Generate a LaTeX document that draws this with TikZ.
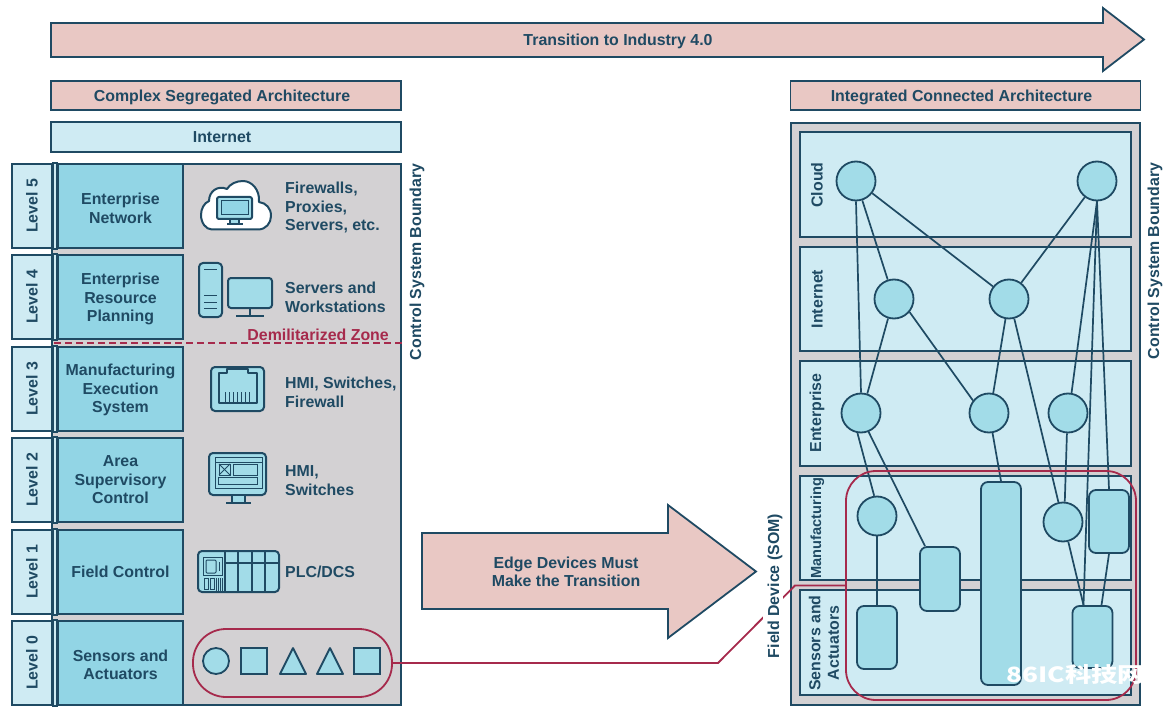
\documentclass[tikz,border=0pt]{standalone}
\usepackage{fontspec}
\setmainfont{Liberation Sans}
\newfontfamily\cjkfont{Noto Sans CJK SC}
\definecolor{encre}{HTML}{1F4A63}
\definecolor{rose}{HTML}{E9C8C4}
\definecolor{pale}{HTML}{CFEBF3}
\definecolor{moyen}{HTML}{92D5E5}
\definecolor{clair}{HTML}{A2DCE8}
\definecolor{gris}{HTML}{D3D1D3}
\definecolor{cramoisi}{HTML}{A62A4C}
\begin{document}
\begin{tikzpicture}[x=1pt,y=-1pt]
	\tikzstyle{every node}=[font=\bfseries\fontsize{15.9}{18.5}\selectfont,text=encre,align=center,inner sep=0pt,execute at begin node={\rule{0pt}{15.5pt}}]
	\tikzstyle{haut}=[execute at begin node={\rule[-4pt]{0pt}{4pt}}]
	\tikzstyle{trait}=[draw=encre,line width=1.8pt]
	\tikzstyle{entete}=[trait,fill=rose,minimum width=350pt,minimum height=29pt]
	\tikzstyle{panneau}=[trait,fill=gris,minimum width=349pt]
	\tikzstyle{niveau}=[trait,fill=pale,minimum width=40pt,minimum height=84pt]
	\tikzstyle{raccord}=[trait,fill=pale]
	\tikzstyle{fonction}=[trait,fill=moyen,minimum width=125pt,minimum height=84pt]
	\tikzstyle{couche}=[trait,fill=pale,minimum width=331pt]
	\tikzstyle{rond}=[trait,fill=clair,circle,minimum size=39pt]
	\tikzstyle{bloc}=[trait,fill=clair,rounded corners=7pt,minimum width=40pt]
	\tikzstyle{liaison}=[draw=encre,line width=1.7pt]
	\tikzstyle{texte}=[anchor=west,align=left]
	\tikzstyle{vertical}=[rotate=90]
	\tikzstyle{fleche}=[trait,fill=rose]
	\tikzstyle{icone}=[draw=encre,line width=2pt,fill=clair,line join=round]
	\tikzstyle{fin}=[draw=encre,line width=1pt]
	\tikzstyle{capsule}=[draw=cramoisi,line width=1.8pt]
	\def\Decale{\hspace{8pt}}
	\def\Cale#1{\rule{0pt}{#1pt}}

	\useasboundingbox (0,0) rectangle (1173,714);

	\draw[fleche] (51,23) -- (1103,23) -- (1103,8) -- (1144,39.5) -- (1103,71) -- (1103,57) -- (51,57) -- cycle;
	\node (Transition) at (618,39) {Transition to Industry 4.0};

	\node[entete] (Complexe) at (226,95.5) {Complex Segregated Architecture\Decale};
	\node[entete,haut,fill=pale,minimum height=30pt] (Internet) at (226,137) {Internet\Decale};
	\node[panneau,minimum height=541pt] (PanneauG) at (226.5,434.5) {};

	\node[niveau] (N5) at (32,206) {\rotatebox{90}{Level 5}};
	\node[niveau] (N4) at (32,297) {\rotatebox{90}{Level 4}};
	\node[niveau] (N3) at (32,389) {\rotatebox{90}{Level 3}};
	\node[niveau] (N2) at (32,480) {\rotatebox{90}{Level 2}};
	\node[niveau] (N1) at (32,572) {\rotatebox{90}{Level 1}};
	\node[niveau] (N0) at (32,663) {\rotatebox{90}{Level 0}};

	\node[fonction] (F5) at (120.5,206) {\Cale{16}Enterprise\\Network};
	\node[fonction] (F4) at (120.5,297) {\Cale{15.5}Enterprise\\Resource\\Planning};
	\node[fonction] (F3) at (120.5,389) {\Cale{14}Manufacturing\\Execution\\System};
	\node[fonction] (F2) at (120.5,480) {Area\\Supervisory\\Control};
	\node[fonction,haut] (F1) at (120.5,572) {Field Control};
	\node[fonction] (F0) at (120.5,663) {\Cale{15.5}Sensors and\\Actuators};

	\draw[raccord] (N5.north east) rectangle (F5.south west);
	\draw[raccord] (N4.north east) rectangle (F4.south west);
	\draw[raccord] (N3.north east) rectangle (F3.south west);
	\draw[raccord] (N2.north east) rectangle (F2.south west);
	\draw[raccord] (N1.north east) rectangle (F1.south west);
	\draw[raccord] (N0.north east) rectangle (F0.south west);

	\node[texte] (T5) at (285,206) {\Cale{14.5}Firewalls,\\Proxies,\\Servers, etc.};
	\node[texte] (T4) at (285,297.5) {Servers and\\Workstations};
	\node[texte] (T3) at (285,392.5) {HMI, Switches,\\Firewall};
	\node[texte] (T2) at (285,480.5) {HMI,\\Switches};
	\node[texte,haut] (T1) at (285,572) {PLC/DCS};

	\draw[icone,fill=white] (212,229.5) -- (258,229.5) .. controls (266,229.5) and (271,223) .. (271,216) .. controls (271,208) and (266,203) .. (259,202) .. controls (260,190) and (252,181) .. (243,181) .. controls (236,181) and (230,184) .. (227,189) .. controls (218,185) and (209,191) .. (209,201) .. controls (204,203) and (201,209) .. (201,215) .. controls (201,223) and (206,229.5) .. (212,229.5) -- cycle;
	\draw[icone,rounded corners=2pt] (217,197) rectangle (252,219);
	\draw[fin,fill=moyen] (221,201) rectangle (248,215);
	\draw[icone,line width=1.4pt] (230,219) rectangle (239,224);
	\draw[icone] (227,224) -- (243,224);

	\draw[icone,rounded corners=4pt] (199,263) rectangle (222,317);
	\draw[fin] (204,270) -- (217,270);
	\draw[fin] (204,295) -- (217,295);
	\draw[fin] (204,302) -- (217,302);
	\draw[fin] (204,308) -- (217,308);
	\draw[icone,rounded corners=3pt] (228,278) rectangle (272,308);
	\draw[icone] (250,308) -- (250,316);
	\draw[icone] (236,316) -- (264,316);

	\draw[icone,rounded corners=4pt] (211,367) rectangle (264,411);
	\draw[icone,fill=none] (219,373) -- (227,373) -- (227,369) -- (248,369) -- (248,373) -- (257,373) -- (257,403) -- (219,403) -- cycle;
	\foreach \x in {225,229,233,237,241,245,249}
		\draw[fin] (\x,392) -- (\x,403);

	\draw[icone,rounded corners=4pt] (209,453) rectangle (266,495);
	\draw[fin] (215,457) rectangle (262,488);
	\draw[fin] (215,462) -- (262,462);
	\draw[fin] (219,464) rectangle (230,475);
	\draw[fin] (219,464) -- (230,475);
	\draw[fin] (219,475) -- (230,464);
	\draw[fin] (233,464) rectangle (257,475);
	\draw[fin] (218,477) rectangle (257,484);
	\draw[icone] (232,495) rectangle (245,503);
	\draw[icone] (226,503) -- (251,503);

	\draw[icone,rounded corners=4pt] (198,551) rectangle (279,592);
	\draw[liaison,line width=1.4pt] (225,551) -- (225,592);
	\draw[liaison,line width=1.4pt] (238,551) -- (238,592);
	\draw[liaison,line width=1.4pt] (252,551) -- (252,592);
	\draw[liaison,line width=1.4pt] (265,551) -- (265,592);
	\draw[liaison,line width=1.4pt] (225,563) -- (279,563);
	\draw[fin] (203,557) rectangle (222,575);
	\draw[fin,rounded corners=1pt] (206,560) rectangle (216,573);
	\draw[fin] (219,562) -- (219,571);
	\draw[fin] (204,578) rectangle (208,589);
	\draw[fin] (210,578) rectangle (214,589);
	\foreach \x in {216,218,220,222}
		\draw[fin] (\x,578) -- (\x,591);

	\node[capsule,minimum width=199pt,minimum height=68pt,rounded corners=33pt] (Capteurs) at (292.5,663) {};
	\node[trait,fill=clair,circle,minimum size=26pt] (C0) at (216,661) {};
	\node[trait,fill=clair,minimum size=26pt] (C1) at (254,661) {};
	\draw[icone,line width=1.8pt] (280,674) -- (293,648) -- (306,674) -- cycle;
	\draw[icone,line width=1.8pt] (317,674) -- (330,648) -- (343,674) -- cycle;
	\node[trait,fill=clair,minimum size=26pt] (C4) at (367,661) {};

	\node[text=cramoisi,anchor=east] (Zone) at (389,333) {Demilitarized Zone};
	\coordinate (ZoneA) at (54,343);
	\draw[capsule,line width=1.3pt,dash pattern=on 7pt off 4pt] (ZoneA) -- (PanneauG.east|-ZoneA);
	\node[vertical] (FrontiereG) at (415,262) {Control System Boundary};

	\draw[fleche] (422,533) -- (668,533) -- (668,505) -- (756,571.5) -- (668,638) -- (668,609) -- (422,609) -- cycle;
	\node (Transition2) at (566,572) {Edge Devices Must\\Make the Transition};

	\node[entete] (Integre) at (965.5,95.5) {Integrated Connected Architecture\Decale};
	\node[panneau,minimum height=582pt] (PanneauD) at (965.5,414) {};
	\node[vertical] (FrontiereD) at (1153,261) {Control System Boundary};

	\node[couche,minimum height=105pt] (Cloud) at (965.5,184.5) {};
	\node[couche,minimum height=104pt] (Net) at (965.5,299) {};
	\node[couche,minimum height=105pt] (Entreprise) at (965.5,413.5) {};
	\node[couche,minimum height=104pt] (Usine) at (965.5,528) {};
	\node[couche,minimum height=105pt] (Terrain) at (965.5,642.5) {};

	\node[vertical] (LCloud) at (815,185) {Cloud};
	\node[vertical] (LNet) at (815,299) {Internet};
	\node[vertical] (LEntreprise) at (815,413) {Enterprise};
	\node[vertical,font=\bfseries\fontsize{14.6}{18}\selectfont] (LUsine) at (815,528) {Manufacturing};
	\node[vertical] (LTerrain) at (824,643) {Sensors and\\Actuators};

	\node[rond] (Ra) at (856,181) {};
	\node[rond] (Rb) at (1097,181) {};
	\node[rond] (Rc) at (894,299) {};
	\node[rond] (Rd) at (1009,299) {};
	\node[rond] (Re) at (861,413) {};
	\node[rond] (Rf) at (989,413) {};
	\node[rond] (Rg) at (1068,413) {};
	\node[rond] (Rh) at (877,516) {};
	\node[rond] (Ri) at (1063,522) {};

	\node[bloc,minimum height=63pt] (Ba) at (877,637.5) {};
	\node[bloc,minimum height=64pt] (Bb) at (940,579) {};
	\node[bloc,minimum height=203pt] (Bc) at (1001,583.5) {};
	\node[bloc,minimum height=63pt] (Bd) at (1109,521.5) {};
	\node[bloc,minimum height=62pt] (Be) at (1092.5,637) {};

	\draw[liaison] (Ra.south) -- (Re.north);
	\draw[liaison] (Ra.-72) -- (Rc.108);
	\draw[liaison] (Ra.-37) -- (Rd.142);
	\draw[liaison] (Rb.-127) -- (Rd.53);
	\draw[liaison] (Rb.south) -- (Rg.80);
	\draw[liaison] (Rb.south) -- ([xshift=-9pt]Be.north);
	\draw[liaison] (Rb.south) -- (Bd.north);
	\draw[liaison] (Rc.-107) -- (Re.72);
	\draw[liaison] (Rc.-40) -- (Rf.142);
	\draw[liaison] (Rd.-100) -- (Rf.78);
	\draw[liaison] (Rd.-75) -- (Ri.103);
	\draw[liaison] (Re.-100) -- (Rh.98);
	\draw[liaison] (Re.-68) -- ([xshift=-15pt]Bb.north);
	\draw[liaison] (Rf.-80) -- (Bc.north);
	\draw[liaison] (Rg.-93) -- (Ri.85);
	\draw[liaison] (Rh.south) -- (Ba.north);
	\draw[liaison] (Ri.-75) -- ([xshift=-9pt]Be.north);
	\draw[liaison] (Bd.south) -- ([xshift=9pt]Be.north);

	\node[capsule,minimum width=290pt,minimum height=229pt,rounded corners=30pt] (Som) at (991,585.5) {};
	\coordinate (CoudeA) at (718,663);
	\coordinate (CoudeB) at (795,585.5);
	\draw[capsule] (Capteurs.east) -- (CoudeA) -- (CoudeB) -- (Som.west);
	\node[vertical,fill=white,inner sep=0.5pt] (Champ) at (773,586) {Field Device (SOM)};

	\node[text=white,font=\cjkfont\bfseries\fontsize{21}{21}\selectfont,execute at begin node={}] (Marque) at (1075.5,675) {\scalebox{1.25}[1]{86IC科技网}};
\end{tikzpicture}
\end{document}
